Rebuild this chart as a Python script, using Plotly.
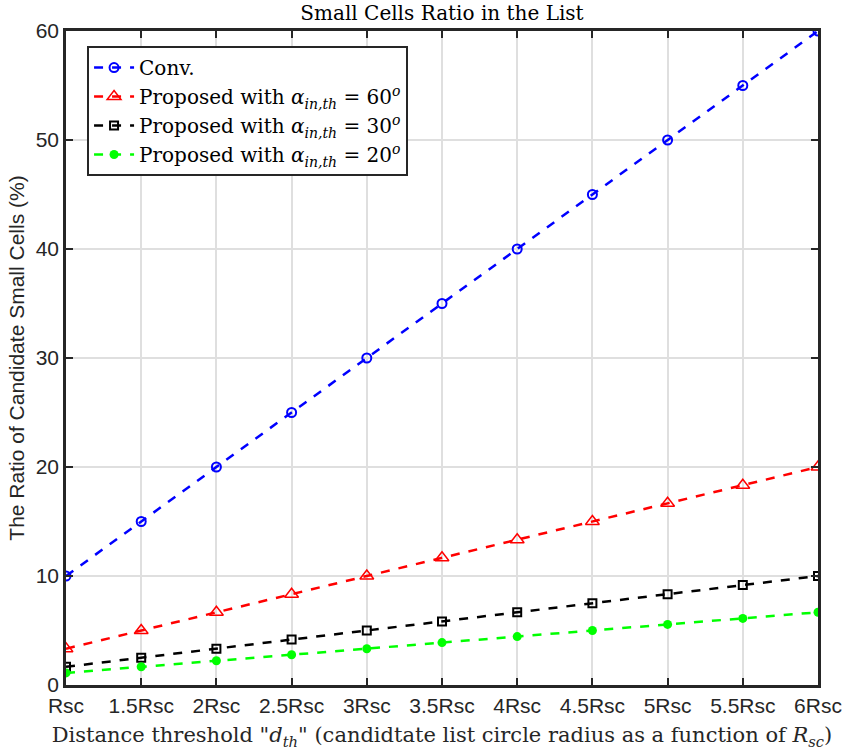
import plotly.graph_objects as go

categories = ["Rsc", "1.5Rsc", "2Rsc", "2.5Rsc", "3Rsc", "3.5Rsc", "4Rsc", "4.5Rsc", "5Rsc", "5.5Rsc", "6Rsc"]
conv = [10, 15, 20, 25, 30, 35, 40, 45, 50, 55, 60]
prop60 = [3.33, 5.0, 6.67, 8.33, 10.0, 11.67, 13.33, 15.0, 16.67, 18.33, 20.0]
prop30 = [1.67, 2.5, 3.33, 4.17, 5.0, 5.83, 6.67, 7.5, 8.33, 9.17, 10.0]
prop20 = [1.11, 1.67, 2.22, 2.78, 3.33, 3.89, 4.44, 5.0, 5.56, 6.11, 6.67]
y_ticks = [0, 10, 20, 30, 40, 50, 60]

serif = "DejaVu Serif, serif"
sans = "Liberation Sans, Arial, sans-serif"

x_idx = list(range(len(categories)))

fig = go.Figure()
series = [
    ("Conv.", conv, "#0000ff", dict(symbol="circle-open", size=9, line=dict(width=2, color="#0000ff"))),
    ("Proposed with <i>α</i><sub><i>in,th</i></sub> = 60<sup><i>o</i></sup>", prop60, "#ff0000",
     dict(symbol="triangle-up-open", size=12, line=dict(width=1.5, color="#ff0000"))),
    ("Proposed with <i>α</i><sub><i>in,th</i></sub> = 30<sup><i>o</i></sup>", prop30, "#000000",
     dict(symbol="square-open", size=8, line=dict(width=2, color="#000000"))),
    ("Proposed with <i>α</i><sub><i>in,th</i></sub> = 20<sup><i>o</i></sup>", prop20, "#00ff00",
     dict(symbol="circle", size=9, color="#00ff00")),
]
for name, ys, col, mk in series:
    if "color" not in mk:
        mk["color"] = col
    fig.add_trace(go.Scatter(
        x=x_idx, y=ys, name=name, mode="lines+markers",
        line=dict(color=col, width=2.5, dash="dash"),
        marker=mk,
    ))

fig.update_layout(
    width=846, height=754,
    margin=dict(l=66, r=28, t=31, b=69),
    paper_bgcolor="white", plot_bgcolor="white",
    title=dict(text="Small Cells Ratio in the List", x=(66 + 818) / 2 / 846, xanchor="center",
               y=1 - 13/754, yanchor="middle",
               font=dict(family=serif, size=20, color="#000000")),
    legend=dict(x=0.028, y=0.977, xanchor="left", yanchor="top",
                bgcolor="white", bordercolor="#262626", borderwidth=2,
                font=dict(family=serif, size=20, color="#000000"),
                tracegroupgap=0, itemwidth=40),
    showlegend=True,
)
fig.update_xaxes(
    range=[0, 10], tickmode="array", tickvals=x_idx, ticktext=categories,
    showgrid=True, gridcolor="#dfdfdf", gridwidth=2,
    showline=True, linecolor="#262626", linewidth=2.5, mirror="ticks",
    ticks="inside", ticklen=7, tickwidth=2, tickcolor="#262626",
    tickfont=dict(family=sans, size=21, color="#262626"),
    zeroline=False, automargin=False,
    title=dict(text='Distance threshold "<i>d</i><sub><i>th</i></sub>" (candidtate list circle radius as a function of <i>R</i><sub><i>sc</i></sub>)',
               font=dict(family=serif, size=21, color="#262626"), standoff=12),
)
fig.update_yaxes(
    range=[0, 60], tickmode="array", tickvals=y_ticks,
    showgrid=True, gridcolor="#dfdfdf", gridwidth=2,
    showline=True, linecolor="#262626", linewidth=2.5, mirror="ticks",
    ticks="inside", ticklen=7, tickwidth=2, tickcolor="#262626",
    tickfont=dict(family=sans, size=21, color="#262626"),
    zeroline=False, automargin=False,
    title=dict(text="The Ratio of Candidate Small Cells (%)",
               font=dict(family=sans, size=21, color="#262626"), standoff=6),
)

fig.write_html("out.html")
